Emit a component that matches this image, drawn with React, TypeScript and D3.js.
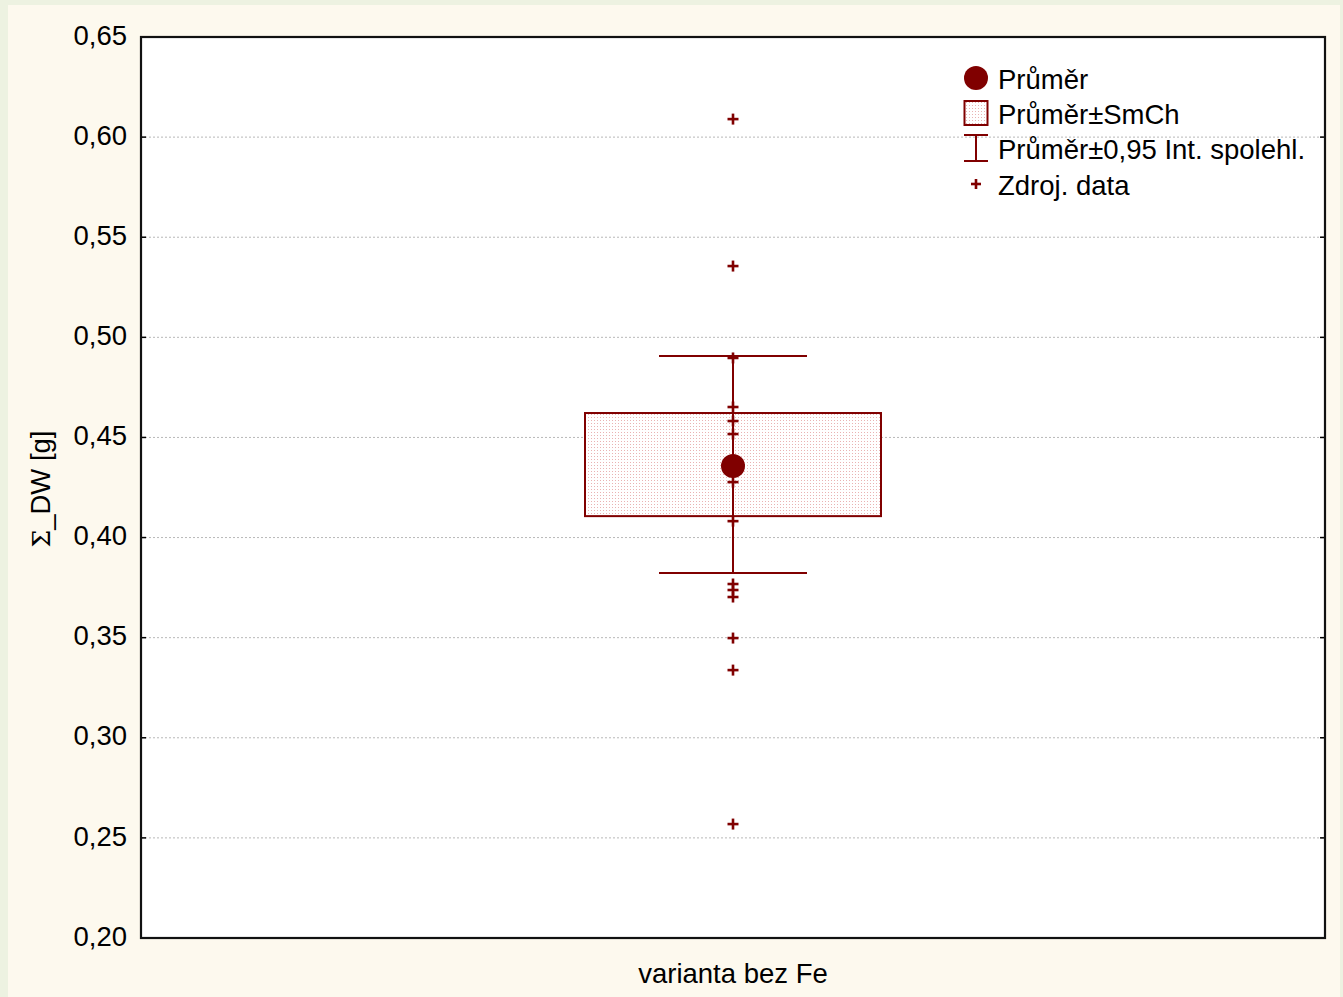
import React from "react";
import * as d3 from "d3";

// values
const category = "varianta bez Fe";
const rawData = [0.609, 0.5356, 0.4897, 0.4652, 0.4582, 0.4517, 0.4277, 0.4082, 0.3768, 0.3738, 0.3703, 0.3498, 0.3338, 0.2569];
const mean = 0.4357;
const seLow = 0.4107;
const seHigh = 0.4622;
const ciLow = 0.3823;
const ciHigh = 0.4907;
const yTicks = [0.2, 0.25, 0.3, 0.35, 0.4, 0.45, 0.5, 0.55, 0.6, 0.65];
const legendLabels = ["Průměr", "Průměr±SmCh", "Průměr±0,95 Int. spolehl.", "Zdroj. data"];

const W = 1343;
const H = 997;
const left = 141, right = 1325, top = 37, bottom = 938;
const red = "#800000";
const font = "'Liberation Sans', Arial, sans-serif";
const fs = 27.5;

const Plus = ({ x, y, s = 5.5 }: { x: number; y: number; s?: number }) => (
  <g stroke={red} strokeWidth={2.6}>
    <line x1={x - s} x2={x + s} y1={y} y2={y} />
    <line x1={x} x2={x} y1={y - s} y2={y + s} />
  </g>
);

export default function App() {
  const y = d3.scaleLinear().domain([0.2, 0.65]).range([bottom, top]);
  const x = d3.scaleBand().domain([category]).range([left, right]);
  const cx = (x(category) ?? 0) + x.bandwidth() / 2;
  const boxHalf = 148;
  const capHalf = 74;
  const fmt = (v: number) => d3.format(".2f")(v).replace(".", ",");

  const legX = 976;
  const legRows = [78, 113, 148, 184];

  return (
    <div style={{ position: "absolute", left: 0, top: 0 }}>
      <svg width={W} height={H} style={{ display: "block" }} fontFamily={font}>
        <defs>
          <pattern id="dots" width={3} height={3} patternUnits="userSpaceOnUse">
            <rect width={3} height={3} fill="#fff" />
            <rect width={1} height={1} fill="#e9b3b3" />
          </pattern>
        </defs>
        <rect width={W} height={H} fill="#edf2e1" />
        <rect x={8} y={5} width={1332} height={H - 5} fill="#fdf9ee" />
        <rect x={left} y={top} width={right - left} height={bottom - top} fill="#fff" />

        {/* grid */}
        {yTicks.map((t) => (
          <g key={t}>
            {t > 0.2 && t < 0.65 && (
              <line x1={left} x2={right} y1={y(t)} y2={y(t)} stroke="#b8b8b8" strokeWidth={1} strokeDasharray="2,2" />
            )}
            <line x1={left} x2={left + 5} y1={y(t)} y2={y(t)} stroke="#000" strokeWidth={1.5} />
            <line x1={right - 5} x2={right} y1={y(t)} y2={y(t)} stroke="#000" strokeWidth={1.5} />
            <text x={127} y={y(t)} dy="0.28em" textAnchor="end" fontSize={fs} fill="#000">
              {fmt(t)}
            </text>
          </g>
        ))}

        {/* whiskers */}
        <g stroke={red} strokeWidth={2}>
          <line x1={cx} x2={cx} y1={y(ciHigh)} y2={y(ciLow)} />
          <line x1={cx - capHalf} x2={cx + capHalf} y1={y(ciHigh)} y2={y(ciHigh)} />
          <line x1={cx - capHalf} x2={cx + capHalf} y1={y(ciLow)} y2={y(ciLow)} />
        </g>
        <rect
          x={cx - boxHalf}
          y={y(seHigh)}
          width={boxHalf * 2}
          height={y(seLow) - y(seHigh)}
          fill="url(#dots)"
          stroke={red}
          strokeWidth={2}
        />
        <line x1={cx} x2={cx} y1={y(ciHigh)} y2={y(ciLow)} stroke={red} strokeWidth={2} />

        {rawData.map((v, i) => (
          <Plus key={i} x={cx} y={y(v)} />
        ))}
        <circle cx={cx} cy={y(mean)} r={12} fill={red} />

        {/* frame */}
        <rect x={left} y={top} width={right - left} height={bottom - top} fill="none" stroke="#111" strokeWidth={2.2} />

        {/* axis labels */}
        <text x={cx} y={983} textAnchor="middle" fontSize={fs} fill="#000">
          {category}
        </text>
        <text transform="translate(50,489) rotate(-90)" textAnchor="middle" fontSize={fs} fill="#000">
          <tspan fontFamily="'DejaVu Serif', serif" fontSize={25}>Σ</tspan>
          <tspan>_DW [g]</tspan>
        </text>

        {/* legend */}
        <circle cx={legX} cy={legRows[0]} r={12} fill={red} />
        <rect x={legX - 11.5} y={legRows[1] - 12} width={23} height={24} fill="url(#dots)" stroke={red} strokeWidth={2} />
        <g stroke={red} strokeWidth={2}>
          <line x1={legX - 12} x2={legX + 12} y1={legRows[2] - 13} y2={legRows[2] - 13} />
          <line x1={legX - 12} x2={legX + 12} y1={legRows[2] + 13} y2={legRows[2] + 13} />
          <line x1={legX} x2={legX} y1={legRows[2] - 13} y2={legRows[2] + 13} />
        </g>
        <Plus x={legX} y={legRows[3]} s={5} />
        {legendLabels.map((l, i) => (
          <text key={l} x={998} y={legRows[i]} dy="0.4em" fontSize={fs} fill="#000">
            {l}
          </text>
        ))}
      </svg>
    </div>
  );
}
